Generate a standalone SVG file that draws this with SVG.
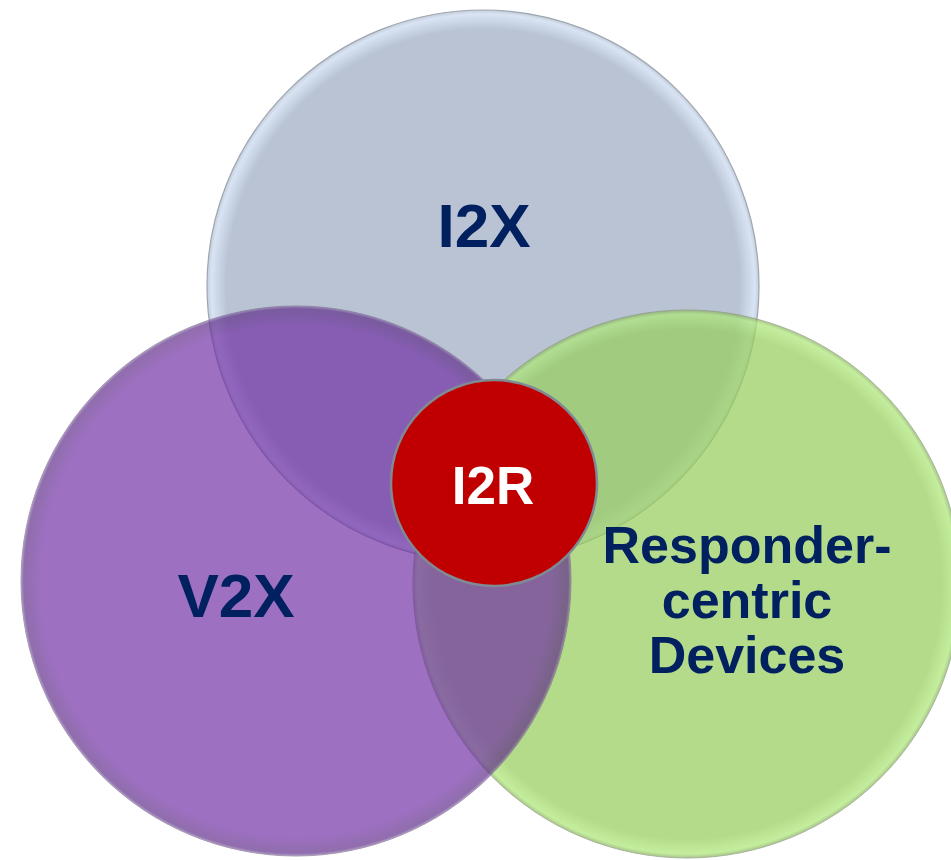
<svg xmlns="http://www.w3.org/2000/svg" width="951" height="860" viewBox="0 0 951 860">
  <style>
    .lbl { font-family: "Liberation Sans", Arial, sans-serif; font-weight: bold; fill: #002060; text-anchor: middle; }
    .lbl-w { font-family: "Liberation Sans", Arial, sans-serif; font-weight: bold; fill: #ffffff; text-anchor: middle; }
  </style>
  <defs>
    <radialGradient id="gT" cx="0.5" cy="0.5" r="0.5">
      <stop offset="0" stop-color="#b9c3d3"/>
      <stop offset="0.93" stop-color="#b9c3d3"/>
      <stop offset="0.985" stop-color="#d8e4f4"/>
      <stop offset="1" stop-color="#c4ccd8"/>
    </radialGradient>
    <radialGradient id="gV" cx="0.5" cy="0.5" r="0.5">
      <stop offset="0" stop-color="#6f2da4"/>
      <stop offset="0.93" stop-color="#6f2da4"/>
      <stop offset="0.99" stop-color="#5c2a86"/>
      <stop offset="1" stop-color="#8e6cb0"/>
    </radialGradient>
    <radialGradient id="gG" cx="0.5" cy="0.5" r="0.5">
      <stop offset="0" stop-color="#99cf5f"/>
      <stop offset="0.93" stop-color="#99cf5f"/>
      <stop offset="0.985" stop-color="#aee87a"/>
      <stop offset="1" stop-color="#8ab060"/>
    </radialGradient>
  </defs>

  <g id="node-i2x">
    <circle cx="483" cy="286" r="276" fill="url(#gT)" stroke="#9ea6b0" stroke-width="1.2"/>
    <text class="lbl" x="484" y="247" font-size="62">I2X</text>
  </g>

  <g id="node-responder">
    <circle cx="687" cy="584" r="274" fill="url(#gG)" stroke="#8a9a7a" stroke-width="1" opacity="0.73"/>
    <text class="lbl" x="747" y="563" font-size="52">Responder-</text>
    <text class="lbl" x="747" y="618" font-size="52">centric</text>
    <text class="lbl" x="747" y="673" font-size="52">Devices</text>
  </g>

  <g id="node-v2x">
    <circle cx="296" cy="581" r="275" fill="url(#gV)" stroke="#7a6a8c" stroke-width="1" opacity="0.68"/>
    <text class="lbl" x="236" y="617" font-size="62">V2X</text>
  </g>

  <g id="node-i2r">
    <circle cx="494" cy="483" r="103" fill="#c00000" stroke="#7f8a94" stroke-width="2.5"/>
    <text class="lbl-w" x="493" y="504" font-size="53">I2R</text>
  </g>

  <g id="connectors"/>
</svg>
